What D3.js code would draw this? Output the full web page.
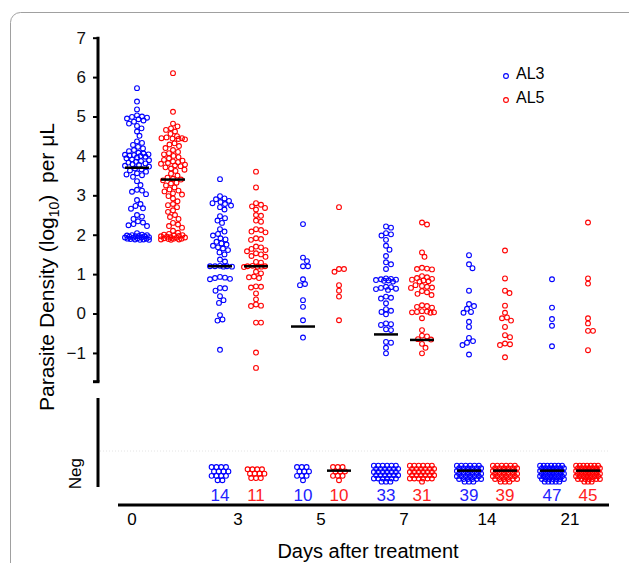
<!DOCTYPE html>
<html lang="en">
<head>
<meta charset="UTF-8">
<title>Parasite density after treatment</title>
<style>
  body { margin: 0; background: #fff; }
  text { font-family: Arial, "Liberation Sans", sans-serif; }
</style>
</head>
<body>
<script src="https://cdnjs.cloudflare.com/ajax/libs/d3/7.8.5/d3.min.js"></script>
<script type="text/javascript">

// days after treatment
var days = ["0", "3", "5", "7", "14", "21"];
var arms = ["AL3", "AL5"];

// positive parasite densities (log10 per uL), one list per day
var al3Day0 = [5.72, 5.38, 5.18, 5.03, 5.00, 4.99, 4.97, 4.95, 4.93, 4.90, 4.87,
  4.82, 4.76, 4.70, 4.62, 4.51, 4.37, 4.33, 4.28, 4.23, 4.19, 4.15, 4.12, 4.08,
  4.06, 4.04, 4.03, 4.02, 4.01, 4.00, 3.98, 3.96, 3.94, 3.91, 3.89, 3.87, 3.85,
  3.83, 3.81, 3.79, 3.77, 3.75, 3.73, 3.68, 3.66, 3.63, 3.60, 3.56, 3.53, 3.51,
  3.47, 3.36, 3.26, 3.14, 3.12, 3.09, 3.03, 2.88, 2.78, 2.73, 2.67, 2.66,
  2.50, 2.46, 2.40, 2.34, 2.31, 2.27, 2.24, 2.22, 2.04, 2.00, 1.99, 1.99, 1.98,
  1.97, 1.96, 1.96, 1.95, 1.94, 1.93, 1.93, 1.92, 1.91, 1.90, 1.90, 1.89, 1.88,
  1.88, 1.87, 1.87];
var al5Day0 = [6.10, 5.12, 4.82, 4.75, 4.70, 4.66, 4.62, 4.56, 4.50, 4.47, 4.45,
  4.45, 4.44, 4.43, 4.42, 4.32, 4.29, 4.25, 4.20, 4.15, 4.10, 4.07, 4.04, 4.00,
  3.97, 3.94, 3.90, 3.88, 3.86, 3.84, 3.82, 3.80, 3.78, 3.76, 3.74, 3.71, 3.68,
  3.65, 3.62, 3.55, 3.50, 3.45, 3.42, 3.40, 3.38, 3.32, 3.30, 3.25, 3.20, 3.15,
  3.12, 3.10, 3.05, 3.02, 2.98, 2.92, 2.85, 2.78, 2.75, 2.70, 2.62, 2.58, 2.50,
  2.45, 2.40, 2.30, 2.26, 2.22, 2.18, 2.10, 2.05, 2.02, 2.00, 1.99, 1.98, 1.97,
  1.96, 1.95, 1.94, 1.93, 1.92, 1.91, 1.90, 1.90, 1.89, 1.88, 1.88, 1.87];
var al3Day3 = [3.41, 2.98, 2.92, 2.90, 2.86, 2.83, 2.80, 2.78, 2.74, 2.70, 2.64,
  2.47, 2.42, 2.36, 2.30, 2.14, 2.08, 2.02, 1.98, 1.91, 1.88, 1.82, 1.78, 1.75,
  1.72, 1.68, 1.65, 1.61, 1.55, 1.50, 1.37, 1.32, 1.21, 1.20, 1.20, 1.20, 1.19,
  1.19, 0.93, 0.91, 0.90, 0.88, 0.87, 0.65, 0.64, 0.58, 0.44, 0.34, 0.27,
  -0.04, -0.15, -0.18, -0.92];
var al5Day3 = [3.60, 3.20, 2.80, 2.76, 2.72, 2.68, 2.64, 2.50, 2.48, 2.36, 2.33,
  2.14, 2.12, 2.08, 2.06, 1.91, 1.89, 1.87, 1.70, 1.68, 1.64, 1.61, 1.58, 1.53,
  1.50, 1.46, 1.44, 1.31, 1.29, 1.21, 1.20, 1.20, 1.19, 1.19, 1.18, 1.06, 1.02,
  0.94, 0.92, 0.90, 0.69, 0.68, 0.66, 0.51, 0.36, 0.23, 0.20, 0.19, -0.23, -0.23,
  -0.99, -1.38];
var al3Day5 = [2.27, 1.42, 1.33, 1.20, 1.20, 0.87, 0.75, 0.72, 0.34, 0.17, -0.17, -0.61];
var al5Day5 = [2.70, 1.13, 1.13, 1.06, 0.72, 0.58, 0.43, -0.17];
var al3Day7 = [2.21, 2.18, 2.04, 2.01, 1.98, 1.87, 1.72, 1.62, 1.46, 1.30, 1.25, 1.13,
  0.89, 0.88, 0.87, 0.86, 0.85, 0.84, 0.83, 0.81, 0.68, 0.67, 0.65, 0.63, 0.62,
  0.60, 0.43, 0.40, 0.38, 0.26, 0.11, 0.07, 0.04, -0.02, -0.25, -0.27, -0.29,
  -0.40, -0.42, -0.72, -0.74, -0.87, -1.01];
var al5Day7 = [2.31, 2.26, 1.55, 1.44, 1.16, 1.14, 1.13, 1.12, 0.95, 0.92, 0.90,
  0.88, 0.86, 0.84, 0.82, 0.81, 0.72, 0.70, 0.68, 0.66, 0.65, 0.57, 0.54, 0.50,
  0.47, 0.21, 0.19, 0.17, 0.15, 0.06, 0.05, 0.04, 0.03, 0.03, 0.02, -0.12, -0.42,
  -0.56, -0.58, -0.65, -0.66, -0.77, -0.87, -1.01];
var al3Day14 = [1.48, 1.25, 1.15, 0.58, 0.24, 0.19, 0.12, 0.04, 0.02, -0.21, -0.34,
  -0.62, -0.70, -0.74, -0.80, -1.04];
var al5Day14 = [1.60, 0.89, 0.58, 0.52, 0.20, 0.02, -0.10, -0.12, -0.18, -0.34,
  -0.55, -0.60, -0.76, -0.78, -0.80, -1.11];
var al3Day21 = [0.87, 0.15, -0.14, -0.31, -0.83];
var al5Day21 = [2.31, 0.89, 0.76, -0.12, -0.25, -0.44, -0.44, -0.93];

var al3Pos = [al3Day0, al3Day3, al3Day5, al3Day7, al3Day14, al3Day21];
var al5Pos = [al5Day0, al5Day3, al5Day5, al5Day7, al5Day14, al5Day21];

// number of negative slides
var al3Neg = [0, 14, 10, 33, 39, 47];
var al5Neg = [0, 11, 10, 31, 39, 45];

// medians ("Neg" = median falls among negatives, null = not drawn)
var al3Median = [3.70, 1.20, -0.33, -0.53, "Neg", "Neg"];
var al5Median = [3.40, 1.20, "Neg", -0.67, "Neg", "Neg"];

var yTicks = [-1, 0, 1, 2, 3, 4, 5, 6, 7];

var colors = { AL3: "#0000ff", AL5: "#ff0000" };
var textColors = { AL3: "#2222ff", AL5: "#ff2222" };

var width = 629, height = 563;
var r = 2.4;

var svg = d3.select("body")
  .append("svg")
  .attr("width", width)
  .attr("height", height);

// panel frame
svg.append("rect")
  .attr("x", 10.5).attr("y", 12.5)
  .attr("width", 660).attr("height", 620)
  .attr("rx", 10)
  .style("fill", "none")
  .style("stroke", "#a0a0a0")
  .style("stroke-width", 1);

var y = d3.scaleLinear().domain([-1.73, 7]).range([381.7, 37.7]);
var yLow = d3.scaleLinear().domain([0, 1]).range([487, 398]);
var negLevel = 0.15;
var yNeg = yLow(negLevel);

var xDay = d3.scalePoint().domain(days).range([155, 570]);
var xArm = d3.scaleBand().domain(arms).range([-36, 36]);
function cx(day, arm) { return xDay(day) + xArm(arm) + xArm.bandwidth() / 2; }

// left axis (upper part)
var yAxis = d3.axisLeft(y).tickValues(yTicks).tickSize(5).tickPadding(7).tickFormat(d3.format("d"));
var gy = svg.append("g").attr("transform", "translate(98,0)").call(yAxis);
gy.select(".domain").remove();
gy.selectAll(".tick line").style("stroke-width", 2);
gy.selectAll(".tick text").style("font-size", "17px").style("fill", "#111");
gy.append("line")
  .attr("y1", y(7) - 1).attr("y2", y(-1.73))
  .style("stroke", "#000").style("stroke-width", 3);
gy.append("line")
  .attr("x1", -5).attr("x2", 1.5)
  .attr("y1", y(-1.73)).attr("y2", y(-1.73))
  .style("stroke", "#000").style("stroke-width", 3);

// left axis (Neg part)
svg.append("line")
  .attr("x1", 98).attr("x2", 98)
  .attr("y1", yLow(1)).attr("y2", yLow(0))
  .style("stroke", "#000").style("stroke-width", 3);
svg.append("line")
  .attr("x1", 100).attr("x2", 610)
  .attr("y1", 451).attr("y2", 451)
  .style("stroke", "#e4e4e4").style("stroke-width", 1)
  .style("stroke-dasharray", "1,2");
svg.append("text")
  .attr("transform", "translate(81," + yNeg + ") rotate(-90)")
  .attr("text-anchor", "middle")
  .style("font-size", "17px")
  .text("Neg");

// y title
var yt = svg.append("text")
  .attr("transform", "translate(54,267) rotate(-90)")
  .attr("text-anchor", "middle")
  .style("font-size", "21px");
yt.append("tspan").text("Parasite Density (log");
yt.append("tspan").attr("dy", 5).style("font-size", "14px").text("10");
yt.append("tspan").attr("dy", -5).text(")\u00a0 per \u03bcL");

// x axis
svg.append("line")
  .attr("x1", 118).attr("x2", 609)
  .attr("y1", 505).attr("y2", 505)
  .style("stroke", "#000").style("stroke-width", 3);
svg.selectAll(".daylab")
  .data(days)
  .enter().append("text")
  .attr("class", "daylab")
  .attr("x", function(d) { return d === "0" ? cx(d, "AL3") - 5 : xDay(d); })
  .attr("y", 525)
  .attr("text-anchor", "middle")
  .style("font-size", "17px")
  .text(function(d) { return d; });
svg.append("text")
  .attr("x", 368).attr("y", 558)
  .attr("text-anchor", "middle")
  .style("font-size", "20px")
  .text("Days after treatment");

// simple beeswarm: sort by y, push each dot sideways until it is free
function swarm(vals, x0) {
  var pts = vals.map(function(v) { return { v: v, y: y(v) }; })
    .sort(function(a, b) { return a.y - b.y; });
  var placed = [];
  var D = 5.0, W = 12;
  var offs = [0];
  for (var k = 0.5; k <= W; k += 0.5) { offs.push(k, -k); }
  pts.forEach(function(p) {
    var best = null, bestGap = -1;
    for (var i = 0; i < offs.length; i++) {
      var gap = Infinity;
      placed.forEach(function(q) {
        var dd = Math.sqrt((q.dx - offs[i]) * (q.dx - offs[i]) + (q.y - p.y) * (q.y - p.y));
        if (dd < gap) gap = dd;
      });
      if (gap >= D) { best = offs[i]; break; }
      if (gap > bestGap) { bestGap = gap; best = offs[i]; }
    }
    p.dx = best;
    placed.push(p);
  });
  return placed.map(function(p) { return { x: x0 + p.dx, y: p.y }; });
}

// packed block for negative slides
function negBlock(n, x0) {
  var out = [];
  if (!n) return out;
  var cols = Math.ceil(Math.sqrt(n * 0.9));
  var rows = Math.ceil(n / cols);
  var dx = Math.min(4.8, 22 / Math.max(cols - 1, 1));
  var dy = Math.min(4.4, 16 / Math.max(rows - 1, 1));
  var i = 0;
  for (var rr = 0; rr < rows; rr++) {
    var inRow = Math.min(cols, n - i);
    var shift = (rr % 2) ? dx / 2 : 0;
    for (var c = 0; c < inRow; c++) {
      out.push({
        x: x0 + (c - (inRow - 1) / 2) * dx + (inRow === cols ? shift - dx / 4 : 0),
        y: yNeg - (rows - 1) * dy / 2 + rr * dy
      });
      i++;
    }
  }
  return out;
}

var groups = [];
days.forEach(function(d, i) {
  groups.push({ day: d, arm: "AL3", pos: al3Pos[i], neg: al3Neg[i], med: al3Median[i] });
  groups.push({ day: d, arm: "AL5", pos: al5Pos[i], neg: al5Neg[i], med: al5Median[i] });
});

groups.forEach(function(g) {
  var x0 = cx(g.day, g.arm);
  var dots = swarm(g.pos, x0).concat(negBlock(g.neg, x0));
  svg.append("g").selectAll("circle")
    .data(dots)
    .enter().append("circle")
    .attr("cx", function(d) { return d.x; })
    .attr("cy", function(d) { return d.y; })
    .attr("r", r)
    .style("fill", "none")
    .style("stroke", colors[g.arm])
    .style("stroke-width", 1.1);

  if (g.med !== null) {
    var my = g.med === "Neg" ? yNeg - 3 : y(g.med);
    svg.append("line")
      .attr("x1", x0 - 12).attr("x2", x0 + 12)
      .attr("y1", my).attr("y2", my)
      .style("stroke", "#000").style("stroke-width", 2.5);
  }

  if (g.neg) {
    svg.append("text")
      .attr("x", x0).attr("y", 501)
      .attr("text-anchor", "middle")
      .style("font-size", "17px")
      .style("fill", textColors[g.arm])
      .text(g.neg);
  }
});

// legend
var legend = svg.append("g").selectAll("g")
  .data(arms)
  .enter().append("g")
  .attr("transform", function(d, i) { return "translate(506," + (76 + i * 24) + ")"; });
legend.append("circle")
  .attr("r", r)
  .style("fill", "none")
  .style("stroke", function(d) { return colors[d]; })
  .style("stroke-width", 1.1);
legend.append("text")
  .attr("x", 10).attr("y", 3)
  .style("font-size", "16px")
  .text(function(d) { return d; });

</script>
</body>
</html>
